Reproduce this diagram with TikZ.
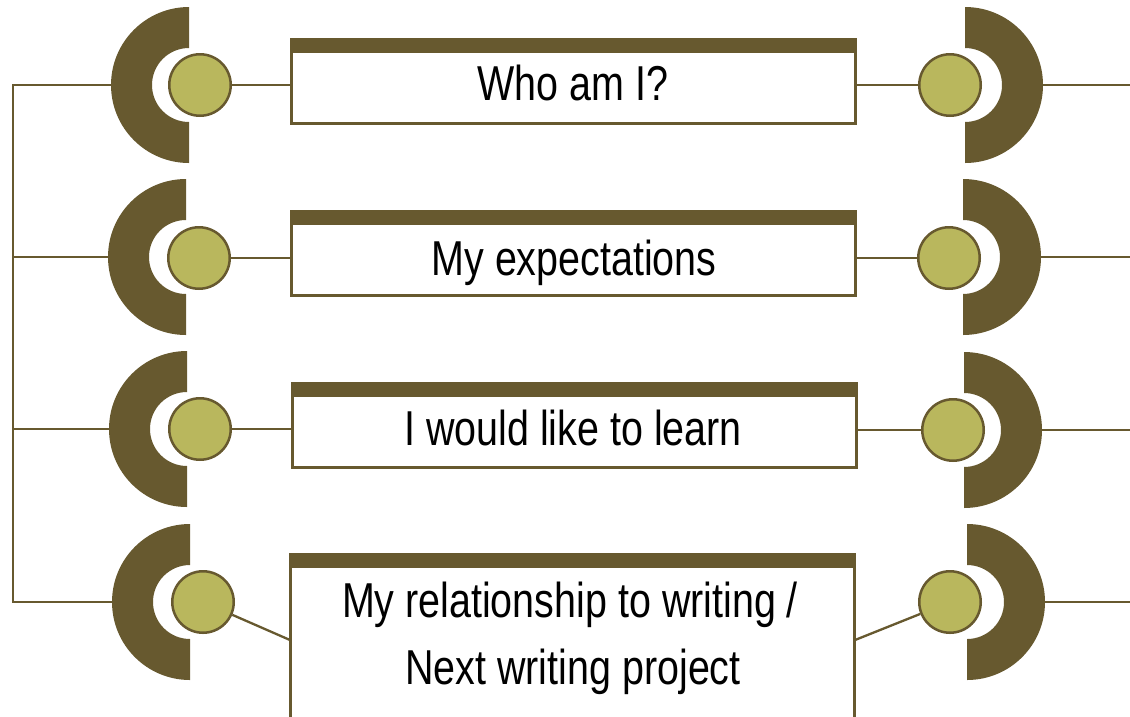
\documentclass[tikz,border=0pt]{standalone}
\usepackage{fontspec}
\setmainfont{Liberation Sans}
\usetikzlibrary{calc}
\definecolor{bark}{RGB}{103,89,47}
\definecolor{moss}{RGB}{185,183,93}

\begin{document}
\begin{tikzpicture}[x=1pt,y=-1pt,
  knob/.style={circle, fill=moss, draw=bark, line width=2.5pt,
    minimum size=61.5pt, inner sep=0pt},
  panel/.style={draw=bark, line width=2.5pt, fill=white, inner sep=0pt,
    anchor=north west, minimum width=564pt},
  capbar/.style={fill=bark, draw=none, inner sep=0pt, anchor=south west,
    minimum width=566.5pt, minimum height=14pt},
  wire/.style={draw=bark, line width=2.3pt},
  caption/.style={anchor=base, inner sep=0pt,
    font=\fontsize{49}{58}\selectfont, text=black},
  lring/.pic={\fill[bark] (0,-78) arc[start angle=270, end angle=90, radius=78]
      -- (0,37) arc[start angle=90, end angle=270, radius=37] -- cycle;},
  rring/.pic={\fill[bark] (0,-78) arc[start angle=-90, end angle=90, radius=78]
      -- (0,37) arc[start angle=90, end angle=-90, radius=37] -- cycle;}
]
\path[use as bounding box, clip] (0,0) rectangle (1130,716);

% half rings, left and right of every row
\pic at (189,85)  {lring};
\pic at (186,257) {lring};
\pic at (187,429) {lring};
\pic at (190,602) {lring};
\pic at (965,85)  {rring};
\pic at (963,257) {rring};
\pic at (964,430) {rring};
\pic at (967,602) {rring};

% outer edges of the rings
\coordinate (rl1) at (111,85);
\coordinate (rl2) at (108,257);
\coordinate (rl3) at (109,429);
\coordinate (rl4) at (112,602);
\coordinate (rr1) at (1043,85);
\coordinate (rr2) at (1041,257);
\coordinate (rr3) at (1042,430);
\coordinate (rr4) at (1045,602);

% spine on the left
\coordinate (s1) at (13,85);
\coordinate (s2) at (13,257);
\coordinate (s3) at (13,429);
\coordinate (s4) at (13,602);
% free ends on the right
\coordinate (e1) at (1135,85);
\coordinate (e2) at (1135,257);
\coordinate (e3) at (1135,430);
\coordinate (e4) at (1135,602);

% knobs
\node[knob] (kl1) at (200,85)  {};
\node[knob] (kl2) at (199,258) {};
\node[knob] (kl3) at (200,429) {};
\node[knob] (kl4) at (203,602) {};
\node[knob] (kr1) at (950,85)  {};
\node[knob] (kr2) at (949,258) {};
\node[knob] (kr3) at (953,430) {};
\node[knob] (kr4) at (950,602) {};

% panels with their top bars
\node[panel, minimum height=72pt]  (p1) at (290,50)  {};
\node[panel, minimum height=72pt]  (p2) at (290,222) {};
\node[panel, minimum height=72pt]  (p3) at (291,394) {};
\node[panel, minimum height=180pt] (p4) at (289,565) {};
\node[capbar] (b1) at ($(p1.north west)+(0,2)$) {};
\node[capbar] (b2) at ($(p2.north west)+(0,2)$) {};
\node[capbar] (b3) at ($(p3.north west)+(0,2)$) {};
\node[capbar] (b4) at ($(p4.north west)+(0,2)$) {};

% joints on the last panel
\coordinate (jl4) at (290,640);
\coordinate (jr4) at (855,640);

% connectors
\draw[wire] (rl1) -- (s1) -- (s4) -- (rl4);
\draw[wire] (s2) -- (rl2);
\draw[wire] (s3) -- (rl3);
\draw[wire] (rr1) -- (e1);
\draw[wire] (rr2) -- (e2);
\draw[wire] (rr3) -- (e3);
\draw[wire] (rr4) -- (e4);
\draw[wire] (kl1) -- (kl1 -| p1.west);
\draw[wire] (kl2) -- (kl2 -| p2.west);
\draw[wire] (kl3) -- (kl3 -| p3.west);
\draw[wire] (kl4) -- (jl4);
\draw[wire] (kr1 -| p1.east) -- (kr1);
\draw[wire] (kr2 -| p2.east) -- (kr2);
\draw[wire] (kr3 -| p3.east) -- (kr3);
\draw[wire] (jr4) -- (kr4);

% captions
\node[caption] (t1)  at (573,100) {\scalebox{0.805}[1]{Who am I?}};
\node[caption] (t2)  at (574,275) {\scalebox{0.805}[1]{My expectations}};
\node[caption] (t3)  at (573,445) {\scalebox{0.805}[1]{I would like to learn}};
\node[caption] (t4a) at (570,617) {\scalebox{0.805}[1]{My relationship to writing /}};
\node[caption] (t4b) at (573,684) {\scalebox{0.805}[1]{Next writing project}};
\end{tikzpicture}
\end{document}
